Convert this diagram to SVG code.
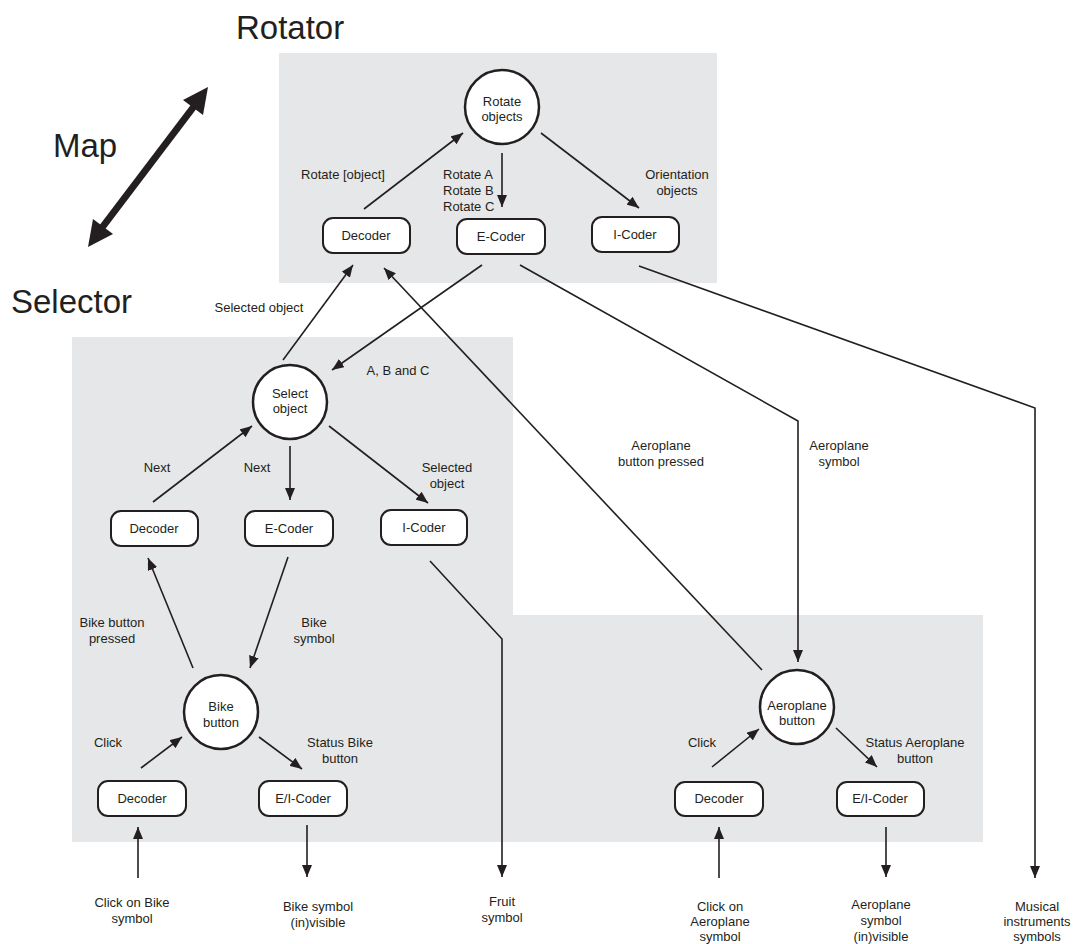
<svg xmlns="http://www.w3.org/2000/svg" width="1076" height="944" viewBox="0 0 1076 944">
<style>
text{font-family:"Liberation Sans",Arial,sans-serif;fill:#231f20;}
.lbl{font-size:13px;text-anchor:middle;}
.lbl-l{font-size:13px;text-anchor:start;}
.big{font-size:33px;}
.nt{font-size:13px;text-anchor:middle;}
.box{fill:#fff;stroke:#231f20;stroke-width:2;}
.circ{fill:#fff;stroke:#231f20;stroke-width:2.5;}
.ln{fill:none;stroke:#231f20;stroke-width:1.6;}
.area{fill:#e6e7e8;}
</style>
<defs>
<marker id="ah" viewBox="0 0 12 10" refX="12" refY="5" markerWidth="12" markerHeight="10" markerUnits="userSpaceOnUse" orient="auto">
<path d="M0,0 L12,5 L0,10 z" fill="#231f20"/>
</marker>
</defs>
<rect width="1076" height="944" fill="#fff"/>
<g id="areas">
<rect class="area" x="279" y="53" width="438" height="230"/>
<path class="area" d="M72,337 H513 V615 H983 V842 H72 Z"/>
</g>
<g id="titles">
<text class="big" x="236" y="39">Rotator</text>
<text class="big" x="53" y="157">Map</text>
<text class="big" x="11" y="313">Selector</text>
<g id="map-arrow">
<line x1="101" y1="229" x2="195" y2="105" stroke="#231f20" stroke-width="7"/>
<path d="M208,87 L203,115 L183,100 Z" fill="#231f20"/>
<path d="M88,247 L93,219 L113,234 Z" fill="#231f20"/>
</g>
</g>
<g id="connectors">
<line class="ln" x1="364" y1="209" x2="463" y2="133" marker-end="url(#ah)"/>
<line class="ln" x1="502" y1="153" x2="502" y2="207" marker-end="url(#ah)"/>
<line class="ln" x1="541" y1="133" x2="639" y2="208" marker-end="url(#ah)"/>
<line class="ln" x1="283" y1="360" x2="353" y2="265" marker-end="url(#ah)"/>
<line class="ln" x1="482" y1="265" x2="332" y2="370" marker-end="url(#ah)"/>
<line class="ln" x1="762" y1="670" x2="384" y2="268" marker-end="url(#ah)"/>
<polyline class="ln" points="520,265 798,421 798,662" marker-end="url(#ah)"/>
<polyline class="ln" points="639,266 1035,408 1035,878" marker-end="url(#ah)"/>
<line class="ln" x1="153" y1="502" x2="252" y2="426" marker-end="url(#ah)"/>
<line class="ln" x1="290" y1="446" x2="290" y2="500" marker-end="url(#ah)"/>
<line class="ln" x1="329" y1="426" x2="428" y2="503" marker-end="url(#ah)"/>
<polyline class="ln" points="430,561 502,639 502,877" marker-end="url(#ah)"/>
<line class="ln" x1="193" y1="668" x2="148" y2="558" marker-end="url(#ah)"/>
<line class="ln" x1="288" y1="557" x2="250" y2="668" marker-end="url(#ah)"/>
<line class="ln" x1="141" y1="768" x2="182" y2="737" marker-end="url(#ah)"/>
<line class="ln" x1="259" y1="737" x2="302" y2="769" marker-end="url(#ah)"/>
<line class="ln" x1="138" y1="878" x2="138" y2="827" marker-end="url(#ah)"/>
<line class="ln" x1="307" y1="825" x2="307" y2="877" marker-end="url(#ah)"/>
<line class="ln" x1="712" y1="767" x2="759" y2="729" marker-end="url(#ah)"/>
<line class="ln" x1="836" y1="728" x2="877" y2="767" marker-end="url(#ah)"/>
<line class="ln" x1="719" y1="878" x2="719" y2="827" marker-end="url(#ah)"/>
<line class="ln" x1="886" y1="827" x2="886" y2="877" marker-end="url(#ah)"/>
</g>
<g id="labels">
<text class="lbl" x="343" y="179">Rotate [object]</text>
<text class="lbl-l" x="443" y="179">Rotate A</text>
<text class="lbl-l" x="443" y="195">Rotate B</text>
<text class="lbl-l" x="443" y="211">Rotate C</text>
<text class="lbl" x="677" y="179">Orientation</text>
<text class="lbl" x="677" y="195">objects</text>
<text class="lbl" x="259" y="312">Selected object</text>
<text class="lbl" x="398" y="375">A, B and C</text>
<text class="lbl" x="157" y="472">Next</text>
<text class="lbl" x="257" y="472">Next</text>
<text class="lbl" x="447" y="472">Selected</text>
<text class="lbl" x="447" y="488">object</text>
<text class="lbl" x="661" y="450">Aeroplane</text>
<text class="lbl" x="661" y="466">button pressed</text>
<text class="lbl" x="839" y="450">Aeroplane</text>
<text class="lbl" x="839" y="466">symbol</text>
<text class="lbl" x="112" y="627">Bike button</text>
<text class="lbl" x="112" y="643">pressed</text>
<text class="lbl" x="314" y="627">Bike</text>
<text class="lbl" x="314" y="643">symbol</text>
<text class="lbl" x="108" y="747">Click</text>
<text class="lbl" x="340" y="747">Status Bike</text>
<text class="lbl" x="340" y="763">button</text>
<text class="lbl" x="702" y="747">Click</text>
<text class="lbl" x="915" y="747">Status Aeroplane</text>
<text class="lbl" x="915" y="763">button</text>
<text class="lbl" x="132" y="907">Click on Bike</text>
<text class="lbl" x="132" y="923">symbol</text>
<text class="lbl" x="318" y="911">Bike symbol</text>
<text class="lbl" x="318" y="927">(in)visible</text>
<text class="lbl" x="502" y="906">Fruit</text>
<text class="lbl" x="502" y="922">symbol</text>
<text class="lbl" x="720" y="911">Click on</text>
<text class="lbl" x="720" y="926">Aeroplane</text>
<text class="lbl" x="720" y="941">symbol</text>
<text class="lbl" x="881" y="909">Aeroplane</text>
<text class="lbl" x="881" y="925">symbol</text>
<text class="lbl" x="881" y="941">(in)visible</text>
<text class="lbl" x="1037" y="911">Musical</text>
<text class="lbl" x="1037" y="926">instruments</text>
<text class="lbl" x="1037" y="941">symbols</text>
</g>
<g id="rotate-objects"><circle class="circ" cx="502" cy="107" r="37"/><text class="nt" x="502" y="106">Rotate</text><text class="nt" x="502" y="121">objects</text></g>
<g id="rot-decoder"><rect class="box" x="323" y="218" width="87" height="35" rx="10"/><text class="nt" x="366" y="240">Decoder</text></g>
<g id="rot-ecoder"><rect class="box" x="457" y="219" width="88" height="35" rx="10"/><text class="nt" x="501" y="241">E-Coder</text></g>
<g id="rot-icoder"><rect class="box" x="592" y="217" width="87" height="35" rx="10"/><text class="nt" x="635" y="239">I-Coder</text></g>
<g id="select-object"><circle class="circ" cx="290" cy="402" r="37"/><text class="nt" x="290" y="398">Select</text><text class="nt" x="290" y="413">object</text></g>
<g id="sel-decoder"><rect class="box" x="111" y="511" width="87" height="35" rx="10"/><text class="nt" x="154" y="533">Decoder</text></g>
<g id="sel-ecoder"><rect class="box" x="245" y="511" width="88" height="35" rx="10"/><text class="nt" x="289" y="533">E-Coder</text></g>
<g id="sel-icoder"><rect class="box" x="381" y="510" width="86" height="35" rx="10"/><text class="nt" x="424" y="532">I-Coder</text></g>
<g id="bike-button"><circle class="circ" cx="221" cy="712" r="37"/><text class="nt" x="221" y="711">Bike</text><text class="nt" x="221" y="727">button</text></g>
<g id="bike-decoder"><rect class="box" x="98" y="781" width="88" height="35" rx="10"/><text class="nt" x="142" y="803">Decoder</text></g>
<g id="bike-eicoder"><rect class="box" x="259" y="781" width="88" height="35" rx="10"/><text class="nt" x="303" y="803">E/I-Coder</text></g>
<g id="aero-button"><circle class="circ" cx="797" cy="707" r="37"/><text class="nt" x="797" y="710">Aeroplane</text><text class="nt" x="797" y="725">button</text></g>
<g id="aero-decoder"><rect class="box" x="675" y="782" width="88" height="34" rx="10"/><text class="nt" x="719" y="803">Decoder</text></g>
<g id="aero-eicoder"><rect class="box" x="837" y="782" width="87" height="34" rx="10"/><text class="nt" x="880" y="803">E/I-Coder</text></g>
</svg>
